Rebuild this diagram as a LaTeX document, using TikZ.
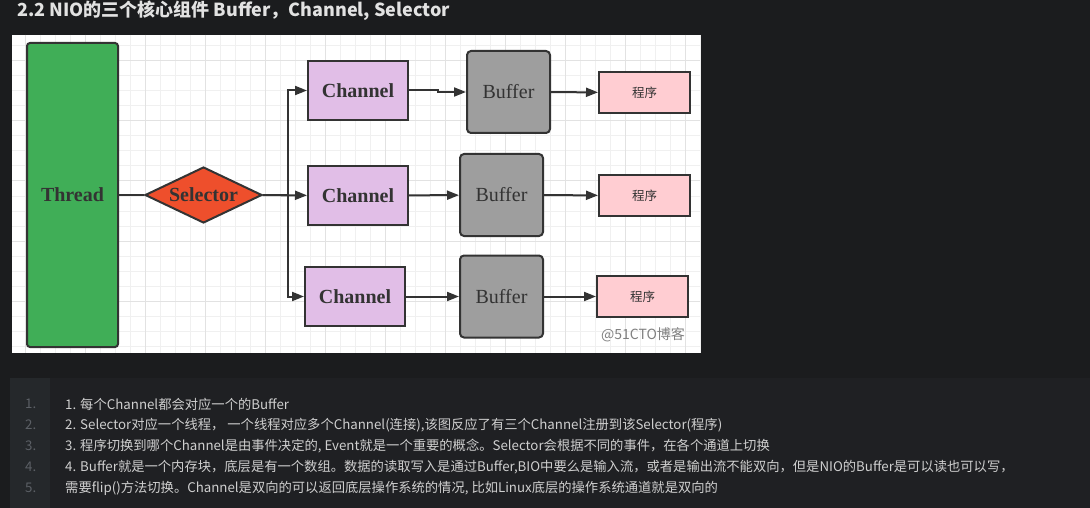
\documentclass[tikz,border=0pt]{standalone}
\usepackage{fontspec}
\setmainfont{Liberation Serif}
\newfontfamily\cjk{Noto Sans CJK SC}
\usetikzlibrary{arrows.meta, shapes.geometric}

\definecolor{bgdark}{HTML}{1B1C1E}
\definecolor{codebg}{HTML}{1F2023}
\definecolor{gutterbg}{HTML}{25282B}
\definecolor{titletxt}{HTML}{E2E2E2}
\definecolor{listtxt}{HTML}{CFCFCF}
\definecolor{numtxt}{HTML}{5C6066}
\definecolor{linedark}{HTML}{333333}
\definecolor{gridminor}{HTML}{F0F0F0}
\definecolor{gridmajor}{HTML}{E2E2E2}
\definecolor{threadgreen}{HTML}{40AE57}
\definecolor{selred}{HTML}{EE4F2C}
\definecolor{chanpurple}{HTML}{E1BEE7}
\definecolor{bufgray}{HTML}{9E9E9E}
\definecolor{progpink}{HTML}{FFCDD2}

\begin{document}
\begin{tikzpicture}[x=1pt,y=-1pt]
\tikzstyle{every node}=[inner sep=0pt, text=linedark]
\tikzstyle{box}=[draw=linedark, line width=2pt, font=\bfseries\fontsize{20}{24}\selectfont]
\tikzstyle{thread}=[box, fill=threadgreen, rounded corners=3pt, minimum width=91, minimum height=304]
\tikzstyle{selector}=[box, diamond, aspect=2.1, fill=selred, minimum width=117, minimum height=56]
\tikzstyle{chan}=[box, fill=chanpurple, minimum width=100, minimum height=59]
\tikzstyle{buf}=[box, fill=bufgray, rounded corners=4pt, minimum width=83, minimum height=82, font=\fontsize{20}{24}\selectfont]
\tikzstyle{prog}=[box, fill=progpink, minimum width=91, minimum height=41, font=\cjk\fontsize{12.5}{15}\selectfont]
\tikzstyle{every edge}=[draw, ->, >={Triangle[length=12pt,width=9pt]}, line width=2pt, linedark]
\tikzstyle{listline}=[anchor=west, text=listtxt, font=\cjk\fontsize{13.3}{15}\selectfont]
\tikzstyle{listnum}=[anchor=west, text=numtxt, font=\cjk\fontsize{13.3}{15}\selectfont]

\useasboundingbox (0,0) rectangle (1090,508);
\fill[bgdark] (0,0) rectangle (1090,508);
\fill[codebg] (10,378) rectangle (1090,508);
\fill[gutterbg] (10,378) rectangle (50,508);

% grid panel
\fill[white] (12,35) rectangle (700,353);
\foreach \x in {25,40,...,700} \draw[gridminor, line width=1pt] (\x,35) -- (\x,353);
\foreach \y in {46,61,...,353} \draw[gridminor, line width=1pt] (12,\y) -- (700,\y);
\foreach \x in {25,85,...,700} \draw[gridmajor, line width=1pt] (\x,35) -- (\x,353);
\foreach \y in {61,121,...,353} \draw[gridmajor, line width=1pt] (12,\y) -- (700,\y);

\node[anchor=west, text=titletxt, font=\cjk\bfseries\fontsize{18}{22}\selectfont] at (17,11) (title) {2.2 NIO的三个核心组件 Buffer，Channel, Selector};

\node[thread] at (72.5,195) (thr) {Thread};
\node[selector] at (203.5,195) (sel) {Selector};

\node[chan] at (358,90.5) (c1) {Channel};
\node[chan] at (358,195.5) (c2) {Channel};
\node[chan] at (355,296.5) (c3) {Channel};

\node[buf] at (508.5,92) (b1) {Buffer};
\node[buf] at (501.5,195) (b2) {Buffer};
\node[buf] at (501.5,296.5) (b3) {Buffer};

\node[prog] at (644.5,92.5) (p1) {程序};
\node[prog] at (644.5,195.5) (p2) {程序};
\node[prog] at (642.5,296.5) (p3) {程序};

\node[text=gray, font=\cjk\fontsize{14}{16}\selectfont] at (643,335) (mark) {@51CTO博客};

\draw (thr) edge[-] (sel);
\draw[->, >={Triangle[length=12pt,width=9pt]}, line width=2pt, linedark] (sel.east) -- ++(25,0) |- (c1);
\draw (sel) edge (c2);
\draw[->, >={Triangle[length=12pt,width=9pt]}, line width=2pt, linedark] (sel.east) -- ++(25,0) |- (c3);
\draw[->, >={Triangle[length=12pt,width=9pt]}, line width=2pt, linedark] (c1.east) -- ++(29,0) |- (b1);
\draw (c2) edge (b2)
      (c3) edge (b3);
\draw (b1) edge (p1)
      (b2) edge (p2)
      (b3) edge (p3);

% numbered notes
\foreach \n/\y in {1/404,2/425,3/446,4/467,5/488}
  \node[listnum] at (25,\y) (n\n) {\n.};
\node[listline] at (65,404) (l1) {1. 每个Channel都会对应一个的Buffer};
\node[listline] at (65,425) (l2) {2. Selector对应一个线程， 一个线程对应多个Channel(连接),该图反应了有三个Channel注册到该Selector(程序)};
\node[listline] at (65,446) (l3) {3. 程序切换到哪个Channel是由事件决定的, Event就是一个重要的概念。Selector会根据不同的事件，在各个通道上切换};
\node[listline] at (65,467) (l4) {4. Buffer就是一个内存块，底层是有一个数组。数据的读取写入是通过Buffer,BIO中要么是输入流，或者是输出流不能双向，但是NIO的Buffer是可以读也可以写，};
\node[listline] at (65,488) (l5) {需要flip()方法切换。Channel是双向的可以返回底层操作系统的情况, 比如Linux底层的操作系统通道就是双向的};
\end{tikzpicture}
\end{document}
